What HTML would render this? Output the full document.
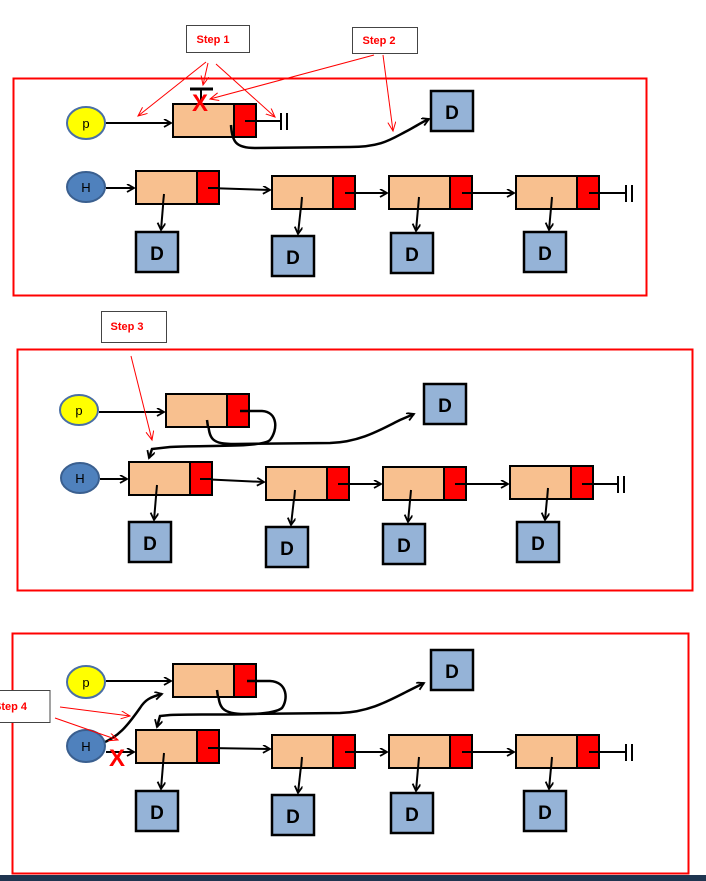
<!DOCTYPE html>
<html><head><style>
html,body{margin:0;padding:0;background:#fff;width:706px;height:881px;overflow:hidden}
svg{display:block}
text{font-family:"Liberation Sans",sans-serif}
</style></head><body>
<svg width="706" height="881" viewBox="0 0 706 881" xmlns="http://www.w3.org/2000/svg">
<defs>
<marker id="a" markerWidth="10" markerHeight="10" refX="8" refY="4" orient="auto" markerUnits="userSpaceOnUse"><path d="M1,0 L8,4 L1,8" fill="none" stroke="#000" stroke-width="1.8"/></marker>
<marker id="r" markerWidth="12" markerHeight="12" refX="9" refY="4" orient="auto" markerUnits="userSpaceOnUse"><path d="M0,0 L9,4 L0,8" fill="none" stroke="#f00" stroke-width="1"/></marker>
<g id="node"><rect x="0" y="0" width="61" height="33" fill="#f8c08f" stroke="#000" stroke-width="2"/><rect x="61" y="0" width="22" height="33" fill="#f00" stroke="#000" stroke-width="2"/></g>
<g id="dbox"><rect x="0" y="0" width="42" height="40" fill="#95b3d7" stroke="#000" stroke-width="2.5"/><text x="21" y="28" font-size="19" font-weight="bold" text-anchor="middle">D</text></g>
</defs>

<rect x="13.5" y="78.5" width="633" height="217" fill="none" stroke="#f00" stroke-width="2"/>
<rect x="17.5" y="349.5" width="675" height="241" fill="none" stroke="#f00" stroke-width="2"/>
<rect x="12.5" y="633.5" width="676" height="240" fill="none" stroke="#f00" stroke-width="2"/>
<rect x="0" y="875" width="706" height="6" fill="#1f3550"/>

<g stroke="#000" stroke-width="2" fill="none">
<line x1="106" y1="123" x2="171" y2="123" marker-end="url(#a)"/>
<line x1="245" y1="121" x2="280" y2="121"/>
<line x1="281" y1="113" x2="281" y2="130"/><line x1="287" y1="113" x2="287" y2="130"/>
<line x1="106" y1="188" x2="134" y2="188" marker-end="url(#a)"/>
<line x1="208" y1="188" x2="270" y2="190" marker-end="url(#a)"/>
<line x1="345" y1="193" x2="387" y2="193" marker-end="url(#a)"/>
<line x1="462" y1="193" x2="514" y2="193" marker-end="url(#a)"/>
<line x1="589" y1="193" x2="625" y2="193"/>
<line x1="626" y1="185" x2="626" y2="202"/><line x1="632" y1="185" x2="632" y2="202"/>
<line x1="164" y1="194" x2="161" y2="230" marker-end="url(#a)"/>
<line x1="302" y1="197" x2="298" y2="234" marker-end="url(#a)"/>
<line x1="419" y1="197" x2="416" y2="231" marker-end="url(#a)"/>
<line x1="552" y1="197" x2="549" y2="230" marker-end="url(#a)"/>

<line x1="99" y1="412" x2="164" y2="412" marker-end="url(#a)"/>
<path d="M240,411 L262,411 C278,412 278,430 270,440 C262,448 200,445 170,447 L152,449 L149,458" stroke-width="2.5" marker-end="url(#a)"/>
<path d="M208,420 C209,440 212,444 235,444 L330,443 C360,442 380,430 400,420 L414,414" stroke-width="2.5" marker-end="url(#a)"/>
<line x1="100" y1="479" x2="127" y2="479" marker-end="url(#a)"/>
<line x1="200" y1="479" x2="264" y2="482" marker-end="url(#a)"/>
<line x1="338" y1="484" x2="381" y2="484" marker-end="url(#a)"/>
<line x1="455" y1="484" x2="508" y2="484" marker-end="url(#a)"/>
<line x1="582" y1="484" x2="617" y2="484"/>
<line x1="618" y1="476" x2="618" y2="493"/><line x1="624" y1="476" x2="624" y2="493"/>
<line x1="157" y1="485" x2="154" y2="520" marker-end="url(#a)"/>
<line x1="295" y1="490" x2="291" y2="525" marker-end="url(#a)"/>
<line x1="411" y1="490" x2="408" y2="522" marker-end="url(#a)"/>
<line x1="548" y1="488" x2="545" y2="520" marker-end="url(#a)"/>

<line x1="106" y1="681" x2="171" y2="681" marker-end="url(#a)"/>
<path d="M247,681 L270,681 C288,682 288,700 282,708 C270,718 210,713 170,715 L160,716 L157,727" stroke-width="2.5" marker-end="url(#a)"/>
<path d="M218,691 C219,708 222,714 245,714 L340,713 C370,712 390,700 410,690 L424,683" stroke-width="2.5" marker-end="url(#a)"/>
<path d="M100,744 C118,738 128,725 140,708 C145,700 150,697 162,694" stroke-width="2.5" marker-end="url(#a)"/>
<line x1="106" y1="752" x2="134" y2="752" marker-end="url(#a)"/>
<line x1="208" y1="748" x2="270" y2="749" marker-end="url(#a)"/>
<line x1="345" y1="752" x2="387" y2="752" marker-end="url(#a)"/>
<line x1="462" y1="752" x2="514" y2="752" marker-end="url(#a)"/>
<line x1="589" y1="752" x2="625" y2="752"/>
<line x1="626" y1="744" x2="626" y2="761"/><line x1="632" y1="744" x2="632" y2="761"/>
<line x1="164" y1="753" x2="161" y2="789" marker-end="url(#a)"/>
<line x1="302" y1="757" x2="298" y2="793" marker-end="url(#a)"/>
<line x1="419" y1="757" x2="416" y2="791" marker-end="url(#a)"/>
<line x1="552" y1="757" x2="549" y2="789" marker-end="url(#a)"/>
</g>

<use href="#node" x="173" y="104"/>
<use href="#node" x="136" y="171"/>
<use href="#node" x="272" y="176"/>
<use href="#node" x="389" y="176"/>
<use href="#node" x="516" y="176"/>
<use href="#dbox" x="431" y="91"/>
<use href="#dbox" x="136" y="232"/>
<use href="#dbox" x="272" y="236"/>
<use href="#dbox" x="391" y="233"/>
<use href="#dbox" x="524" y="232"/>
<g stroke="#000" stroke-width="2" fill="none">
<path d="M231,125 C232,142 236,148 255,148 L350,147 C380,147 390,140 405,132 C415,127 420,123 429,119" stroke-width="2.5" marker-end="url(#a)"/>
<line x1="245" y1="121" x2="256" y2="121"/>
<line x1="208" y1="188" x2="218" y2="188"/><line x1="345" y1="193" x2="355" y2="193"/>
<line x1="462" y1="193" x2="473" y2="193"/><line x1="589" y1="193" x2="600" y2="193"/>
<line x1="164" y1="194" x2="163" y2="204"/><line x1="302" y1="197" x2="301" y2="209"/>
<line x1="419" y1="197" x2="418" y2="209"/><line x1="552" y1="197" x2="551" y2="209"/>
</g>
<ellipse cx="86" cy="123" rx="19" ry="16" fill="#ffff00" stroke="#4a6fa5" stroke-width="2"/>
<text x="86" y="128" font-size="13" text-anchor="middle">p</text>
<ellipse cx="86" cy="187" rx="19" ry="15" fill="#4f81bd" stroke="#3a5f8f" stroke-width="2"/>
<text x="86" y="192" font-size="13" text-anchor="middle">H</text>
<line x1="190" y1="89" x2="213" y2="89" stroke="#000" stroke-width="3"/>
<line x1="201" y1="89" x2="201" y2="104" stroke="#000" stroke-width="2"/>
<text x="200" y="111" font-size="24" font-weight="bold" fill="#f00" text-anchor="middle">X</text>

<rect x="186.5" y="25.5" width="63" height="27" fill="#fff" stroke="#444"/>
<text x="213" y="43" font-size="11" font-weight="bold" fill="#f00" text-anchor="middle">Step 1</text>
<rect x="352.5" y="27.5" width="65" height="26" fill="#fff" stroke="#444"/>
<text x="379" y="44" font-size="11" font-weight="bold" fill="#f00" text-anchor="middle">Step 2</text>
<g stroke="#f00" stroke-width="1" fill="none">
<line x1="206" y1="62" x2="138" y2="116" marker-end="url(#r)"/>
<line x1="208" y1="63" x2="203" y2="85" marker-end="url(#r)"/>
<line x1="216" y1="64" x2="275" y2="117" marker-end="url(#r)"/>
<line x1="374" y1="55" x2="210" y2="99" marker-end="url(#r)"/>
<line x1="383" y1="55" x2="393" y2="131" marker-end="url(#r)"/>
</g>

<use href="#node" x="166" y="394"/>
<use href="#node" x="129" y="462"/>
<use href="#node" x="266" y="467"/>
<use href="#node" x="383" y="467"/>
<use href="#node" x="510" y="466"/>
<use href="#dbox" x="424" y="384"/>
<use href="#dbox" x="129" y="522"/>
<use href="#dbox" x="266" y="527"/>
<use href="#dbox" x="383" y="524"/>
<use href="#dbox" x="517" y="522"/>
<g stroke="#000" stroke-width="2" fill="none">
<line x1="240" y1="411" x2="249" y2="411" stroke-width="2.5"/>
<line x1="207" y1="420" x2="208" y2="427" stroke-width="2.5"/>
<line x1="200" y1="479" x2="211" y2="479"/><line x1="338" y1="484" x2="349" y2="484"/>
<line x1="455" y1="484" x2="466" y2="484"/><line x1="582" y1="484" x2="593" y2="484"/>
<line x1="157" y1="485" x2="156" y2="496"/><line x1="295" y1="490" x2="294" y2="501"/>
<line x1="411" y1="490" x2="410" y2="501"/><line x1="548" y1="488" x2="547" y2="500"/>
</g>
<ellipse cx="79" cy="410" rx="19" ry="15" fill="#ffff00" stroke="#4a6fa5" stroke-width="2"/>
<text x="79" y="415" font-size="13" text-anchor="middle">p</text>
<ellipse cx="80" cy="478" rx="19" ry="15" fill="#4f81bd" stroke="#3a5f8f" stroke-width="2"/>
<text x="80" y="483" font-size="13" text-anchor="middle">H</text>
<rect x="101.5" y="311.5" width="65" height="31" fill="#fff" stroke="#444"/>
<text x="127" y="330" font-size="11" font-weight="bold" fill="#f00" text-anchor="middle">Step 3</text>
<line x1="131" y1="356" x2="152" y2="440" stroke="#f00" stroke-width="1" marker-end="url(#r)"/>

<use href="#node" x="173" y="664"/>
<use href="#node" x="136" y="730"/>
<use href="#node" x="272" y="735"/>
<use href="#node" x="389" y="735"/>
<use href="#node" x="516" y="735"/>
<use href="#dbox" x="431" y="650"/>
<use href="#dbox" x="136" y="791"/>
<use href="#dbox" x="272" y="795"/>
<use href="#dbox" x="391" y="793"/>
<use href="#dbox" x="524" y="791"/>
<g stroke="#000" stroke-width="2" fill="none">
<line x1="247" y1="681" x2="256" y2="681" stroke-width="2.5"/>
<line x1="217" y1="690" x2="218" y2="697" stroke-width="2.5"/>
<line x1="208" y1="748" x2="218" y2="748"/><line x1="345" y1="752" x2="355" y2="752"/>
<line x1="462" y1="752" x2="473" y2="752"/><line x1="589" y1="752" x2="600" y2="752"/>
<line x1="164" y1="753" x2="163" y2="764"/><line x1="302" y1="757" x2="301" y2="769"/>
<line x1="419" y1="757" x2="418" y2="769"/><line x1="552" y1="757" x2="551" y2="769"/>
</g>
<ellipse cx="86" cy="682" rx="19" ry="16" fill="#ffff00" stroke="#4a6fa5" stroke-width="2"/>
<text x="86" y="687" font-size="13" text-anchor="middle">p</text>
<ellipse cx="86" cy="746" rx="19" ry="16" fill="#4f81bd" stroke="#3a5f8f" stroke-width="2"/>
<text x="86" y="751" font-size="13" text-anchor="middle">H</text>
<text x="117" y="766" font-size="24" font-weight="bold" fill="#f00" text-anchor="middle">X</text>
<rect x="-5" y="690.5" width="55" height="32" fill="#fff" stroke="#444"/>
<text x="-6" y="710" font-size="11" font-weight="bold" fill="#f00">Step 4</text>
<g stroke="#f00" stroke-width="1" fill="none">
<line x1="60" y1="707" x2="130" y2="716" marker-end="url(#r)"/>
<line x1="55" y1="718" x2="118" y2="740" marker-end="url(#r)"/>
</g>
</svg>
</body></html>
